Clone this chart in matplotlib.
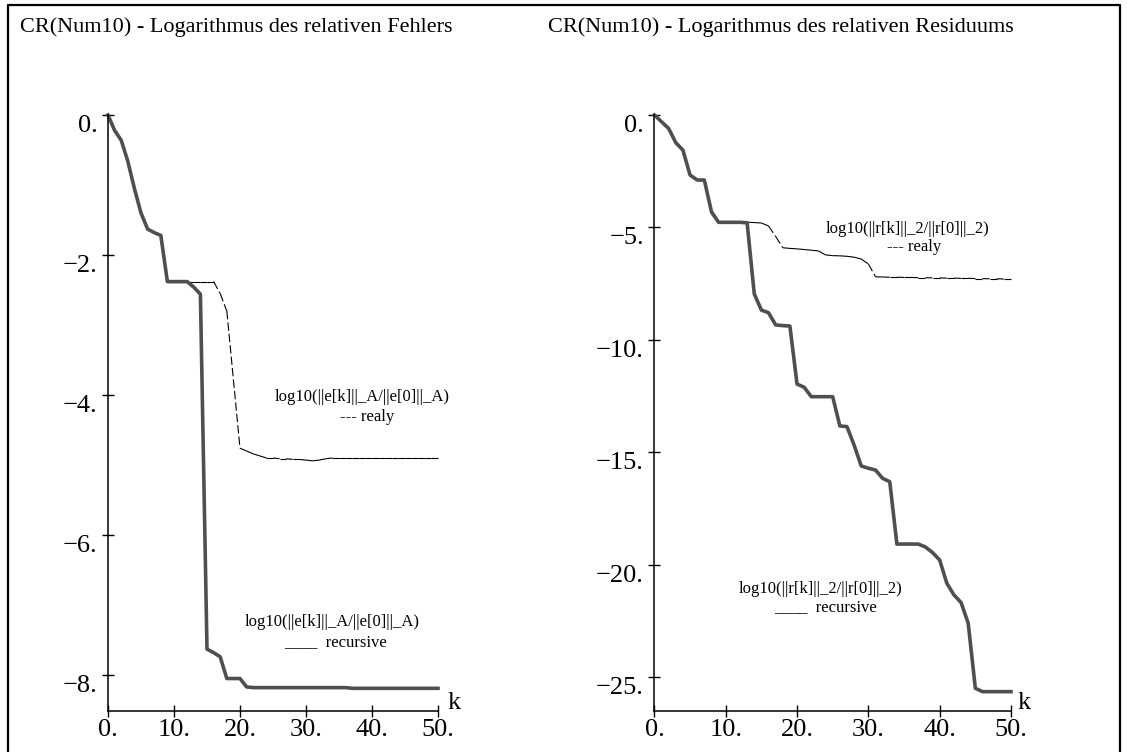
import matplotlib
matplotlib.use("Agg")
import matplotlib.pyplot as plt
from matplotlib.lines import Line2D
from matplotlib.collections import LineCollection

plt.rcParams['font.family'] = ['Liberation Serif', 'DejaVu Serif']

W, H = 1127, 752

# iteration index
k = list(range(51))

# log10 of relative A-norm error
err_recursive = [0, -0.22, -0.36, -0.66, -1.05, -1.40, -1.63, -1.68, -1.72, -2.38,
                 -2.38, -2.38, -2.38, -2.46, -2.56, -7.63, -7.68, -7.74, -8.05, -8.05,
                 -8.05, -8.17, -8.18, -8.18, -8.18, -8.18, -8.18, -8.18, -8.18, -8.18,
                 -8.18, -8.18, -8.18, -8.18, -8.18, -8.18, -8.18, -8.19, -8.19, -8.19,
                 -8.19, -8.19, -8.19, -8.19, -8.19, -8.19, -8.19, -8.19, -8.19, -8.19,
                 -8.19]
err_realy = [0, -0.22, -0.36, -0.66, -1.05, -1.40, -1.63, -1.68, -1.72, -2.38,
             -2.38, -2.38, -2.38, -2.38, -2.38, -2.38, -2.38, -2.55, -2.80, -3.78,
             -4.76, -4.80, -4.84, -4.87, -4.90, -4.90, -4.91, -4.91, -4.92, -4.92,
             -4.93, -4.94, -4.93, -4.91, -4.90, -4.90, -4.90, -4.90, -4.90, -4.90,
             -4.90, -4.90, -4.90, -4.90, -4.90, -4.90, -4.90, -4.90, -4.90, -4.90,
             -4.90]

# log10 of relative 2-norm residual
res_recursive = [0, -0.30, -0.60, -1.23, -1.56, -2.67, -2.89, -2.89, -4.30, -4.77,
                 -4.77, -4.77, -4.77, -4.79, -7.95, -8.67, -8.79, -9.33, -9.36, -9.38,
                 -11.96, -12.10, -12.52, -12.52, -12.52, -12.52, -13.82, -13.85, -14.67, -15.60,
                 -15.70, -15.78, -16.15, -16.30, -19.07, -19.07, -19.07, -19.07, -19.20, -19.45,
                 -19.78, -20.81, -21.33, -21.67, -22.59, -25.48, -25.63, -25.63, -25.63, -25.63,
                 -25.63]
res_realy = [0, -0.30, -0.60, -1.23, -1.56, -2.67, -2.89, -2.89, -4.40, -4.77,
             -4.77, -4.77, -4.77, -4.77, -4.78, -4.80, -4.93, -5.40, -5.90, -5.93,
             -5.95, -5.98, -6.01, -6.04, -6.22, -6.25, -6.26, -6.28, -6.32, -6.40,
             -6.62, -7.19, -7.20, -7.21, -7.21, -7.22, -7.22, -7.23, -7.23, -7.24,
             -7.24, -7.25, -7.25, -7.26, -7.26, -7.27, -7.27, -7.28, -7.28, -7.29,
             -7.29]

xticks = [0, 10, 20, 30, 40, 50]
xtick_labels = ["0.", "10.", "20.", "30.", "40.", "50."]
err_yticks = [0, -2, -4, -6, -8]
err_ytick_labels = ["0.", "\u22122.", "\u22124.", "\u22126.", "\u22128."]
res_yticks = [0, -5, -10, -15, -20, -25]
res_ytick_labels = ["0.", "\u22125.", "\u221210.", "\u221215.", "\u221220.", "\u221225."]

titles = ["CR(Num10) - Logarithmus des relativen Fehlers",
          "CR(Num10) - Logarithmus des relativen Residuums"]
err_label = "log10(||e[k]||_A/||e[0]||_A)"
res_label = "log10(||r[k]||_2/||r[0]||_2)"

fig = plt.figure(figsize=(W / 100, H / 100), dpi=100)


def px_box(x0, x1, y_top, y_bot):
    return [x0 / W, 1 - y_bot / H, (x1 - x0) / W, (y_bot - y_top) / H]


def style_axes(ax, yticks, ylabels):
    for s in ("top", "right"):
        ax.spines[s].set_visible(False)
    for s in ("left", "bottom"):
        ax.spines[s].set_linewidth(1.1)
    ax.set_xticks(xticks)
    ax.set_xticklabels(xtick_labels)
    ax.set_yticks(yticks)
    ax.set_yticklabels(ylabels)
    ax.tick_params(direction="inout", length=9, width=1.0, labelsize=19, pad=1)
    ax.tick_params(axis="y", pad=3)
    for t in ax.get_yticklabels():
        t.set_verticalalignment("top")
    ax.patch.set_visible(False)


def dashed_segments(ax, xs, ys):
    # each segment restarts its dash pattern, so short steps stay solid
    segs = [[(xs[i], ys[i]), (xs[i + 1], ys[i + 1])] for i in range(len(xs) - 1)]
    lc = LineCollection(segs, colors="black", linewidths=0.8,
                        linestyles=[(0, (7.5, 2.8))], clip_on=False)
    ax.add_collection(lc)


GRAY = "#4f4f4f"

# left panel: relative error
ax1 = fig.add_axes(px_box(108, 438, 115, 711))
ax1.set_xlim(0, 50)
ax1.set_ylim(-8.514, 0)
style_axes(ax1, err_yticks, err_ytick_labels)
dashed_segments(ax1, k, err_realy)
ax1.plot(k, err_recursive, color=GRAY, lw=2.6, clip_on=False)

# right panel: relative residual
ax2 = fig.add_axes(px_box(654.4, 1011, 115, 711))
ax2.set_xlim(0, 50)
ax2.set_ylim(-26.49, 0)
style_axes(ax2, res_yticks, res_ytick_labels)
dashed_segments(ax2, k, res_realy)
ax2.plot(k, res_recursive, color=GRAY, lw=2.6, clip_on=False)

# axis name at the end of each k axis
for xp in (454, 1024):
    fig.text(xp / W, 1 - 703 / H, "k", fontsize=19, ha="center", va="center")

# titles
fig.text(20 / W, 1 - 27 / H, titles[0], fontsize=16, ha="left", va="center")
fig.text(548 / W, 1 - 27 / H, titles[1], fontsize=16, ha="left", va="center")

# curve labels
lab = dict(fontsize=12, ha="center", va="center")
fig.text(362 / W, 1 - 397 / H, err_label, **lab)
fig.text(367 / W, 1 - 417 / H, "--- realy", **lab)
fig.text(332 / W, 1 - 622 / H, err_label, **lab)
fig.text(336 / W, 1 - 642 / H, "____  recursive", **lab)
fig.text(908 / W, 1 - 229 / H, res_label, **lab)
fig.text(914 / W, 1 - 247 / H, "--- realy", **lab)
fig.text(821 / W, 1 - 589 / H, res_label, **lab)
fig.text(825 / W, 1 - 607 / H, "____  recursive", **lab)

# outer frame (left, top, right)
frame_x = [8 / W, 8 / W, 1120 / W, 1120 / W]
frame_y = [0, 1 - 5 / H, 1 - 5 / H, 0]
fig.add_artist(Line2D(frame_x, frame_y, color="black", lw=1.6, transform=fig.transFigure))

fig.savefig("out.png", dpi=100)
